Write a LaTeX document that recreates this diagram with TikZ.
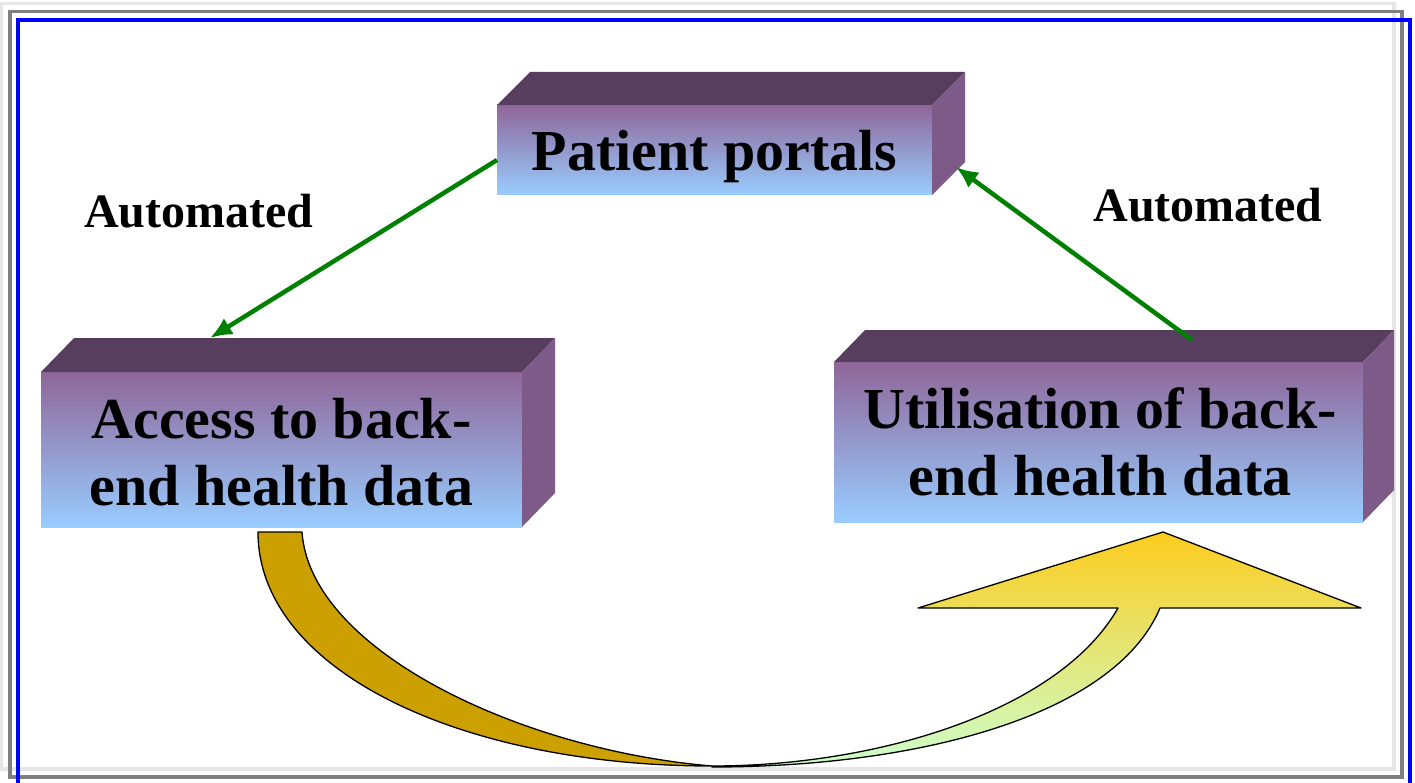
\documentclass[tikz,border=0pt]{standalone}
\usepackage{fontspec}
\setmainfont{Liberation Serif}
\usetikzlibrary{calc,arrows.meta}
\definecolor{topface}{RGB}{87,61,94}
\definecolor{sideface}{RGB}{125,90,136}
\definecolor{frontTop}{RGB}{143,102,153}
\definecolor{frontBot}{RGB}{153,204,255}
\definecolor{goldc}{RGB}{204,160,0}
\definecolor{arrowTop}{RGB}{253,204,30}
\definecolor{arrowMid}{RGB}{237,224,140}
\definecolor{arrowBot}{RGB}{204,255,204}
\definecolor{grn}{RGB}{0,128,0}
\definecolor{lgray}{RGB}{230,230,230}
\definecolor{dgray}{RGB}{128,128,128}
\begin{document}
\begin{tikzpicture}[x=1pt,y=-1pt,
  frontface/.style={draw=none,inner sep=0pt,outer sep=0pt,top color=frontTop,bottom color=frontBot},
  boxtext/.style={font=\fontsize{58}{67}\selectfont\bfseries,align=center,inner sep=0pt},
  autotext/.style={font=\fontsize{48}{56}\selectfont\bfseries,inner sep=0pt,anchor=base},
  garrow/.style={draw=grn,line width=4.5pt,-{Latex[length=22pt,width=19pt]}},
  outline/.style={draw=black,line width=1.3pt,line join=round}]
\useasboundingbox (0,0) rectangle (1415,783);
% frames
\draw[lgray,line width=3.5pt] (1.7,3.3) rectangle (1394,769);
\draw[dgray,line width=3.5pt] (10,11.7) rectangle (1402,777);
\draw[blue,line width=4pt] (18,20) rectangle (1410,800);
% boxes
\node[frontface,minimum width=435pt,minimum height=90pt] (pp) at (714.5,150) {};
\fill[topface] (pp.north west) -- ++(33,-33) -- ($(pp.north east)+(33,-33)$) -- (pp.north east) -- cycle;
\fill[sideface] (pp.north east) -- ++(33,-33) -- ($(pp.south east)+(33,-33)$) -- (pp.south east) -- cycle;
\node[boxtext] (pptext) at (714.5,156.5) {Patient portals};

\node[frontface,minimum width=481pt,minimum height=155pt] (acc) at (281.5,449.5) {};
\fill[topface] (acc.north west) -- ++(33,-34) -- ($(acc.north east)+(33,-34)$) -- (acc.north east) -- cycle;
\fill[sideface] (acc.north east) -- ++(33,-34) -- ($(acc.south east)+(33,-34)$) -- (acc.south east) -- cycle;
\node[boxtext] (acctext) at (281.5,451.7) {Access to back-\\end health data};

\node[frontface,minimum width=529pt,minimum height=160pt] (util) at (1098.5,442) {};
\fill[topface] (util.north west) -- ++(31,-32) -- ($(util.north east)+(31,-32)$) -- (util.north east) -- cycle;
\fill[sideface] (util.north east) -- ++(31,-32) -- ($(util.south east)+(31,-32)$) -- (util.south east) -- cycle;
\node[boxtext] (utiltext) at (1100,441.7) {Utilisation of back-\\end health data};

% labels
\node[autotext] (autoL) at (198.7,227.7) {Automated};
\node[autotext] (autoR) at (1208,221.7) {Automated};

% green arrows
\coordinate (ppL) at ($(pp.west)+(0,10)$);
\coordinate (accIn) at ($(acc.north west)+(169,-34)$);
\coordinate (utilOut) at ($(util.north west)+(358,-22)$);
\coordinate (ppIn) at ($(pp.south east)+(24,-28)$);
\draw[garrow] (ppL) -- (accIn);
\draw[garrow] (utilOut) -- (ppIn);

% curved arrow
\path[outline,fill=goldc] (258,532) -- (302,532) .. controls (310,650) and (520,750) .. (712,766)
   .. controls (460,766) and (258,670) .. (258,532) -- cycle;
\path[outline,top color=arrowTop,middle color=arrowMid,bottom color=arrowBot]
   (712,766) .. controls (880,766) and (1060,710) .. (1118,608) -- (918,608) -- (1163,532)
   -- (1361,608) -- (1160,608) .. controls (1115,715) and (920,767) .. (712,767) -- cycle;
\end{tikzpicture}
\end{document}
